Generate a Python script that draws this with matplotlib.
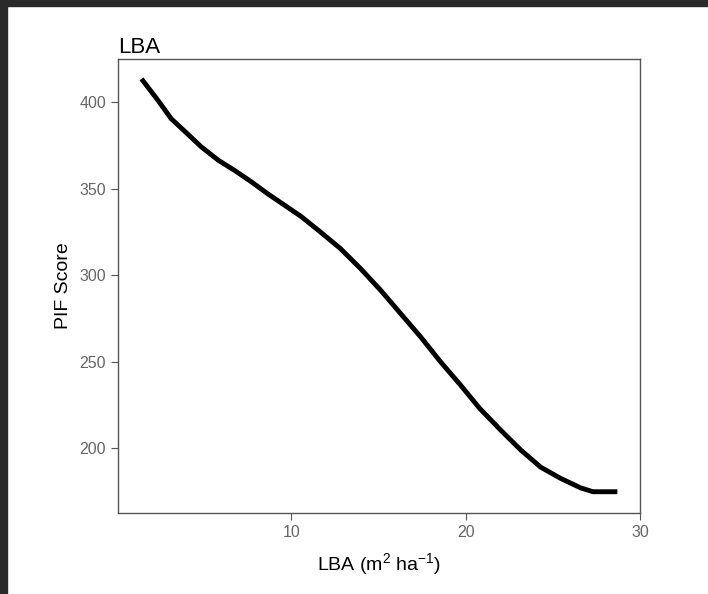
import matplotlib
matplotlib.use("Agg")
import matplotlib.pyplot as plt
from matplotlib.patches import Rectangle

plt.rcParams['font.family'] = ['Liberation Sans', 'DejaVu Sans']
plt.rcParams['mathtext.default'] = 'regular'
plt.rcParams['axes.unicode_minus'] = False

# curve
lba = [1.4, 2.35, 3.1, 3.9, 4.85, 5.8, 6.75, 7.7, 8.65, 9.6, 10.55, 11.6,
       12.8, 13.95, 15.1, 16.25, 17.4, 18.55, 19.7, 20.8, 22.0, 23.15,
       24.3, 25.45, 26.6, 27.3, 28.7]
pif = [413.5, 401, 390.5, 383, 374, 366.5, 360.5, 354, 347, 340.5, 334, 325.5,
       315.5, 304, 291.5, 278, 264.5, 250, 236.5, 223, 210.5, 199,
       189, 182.5, 177, 174.8, 174.8]

fig = plt.figure(figsize=(7.08, 5.94), dpi=100)
fig.patch.set_facecolor('white')

# dark frame on top/left of the screenshot
fig.add_artist(Rectangle((0, 1 - 6/594), 1, 6/594, transform=fig.transFigure, color='#2a2a2a', zorder=0))
fig.add_artist(Rectangle((0, 0), 7/708, 1, transform=fig.transFigure, color='#2a2a2a', zorder=0))

ax = fig.add_axes([118/708, 81/594, 522/708, 454/594])
ax.plot(lba, pif, color='black', lw=3.5, solid_capstyle='butt', solid_joinstyle='round')

ax.set_xlim(0.05, 30)
ax.set_ylim(162.5, 425)
ax.set_xticks([10, 20, 30])
ax.set_yticks([200, 250, 300, 350, 400])

for s in ax.spines.values():
    s.set_color('#555555')
    s.set_linewidth(1.0)
ax.tick_params(colors='#555555', labelcolor='#666666', labelsize=11.5, length=5, width=0.8)

ax.set_ylabel('PIF Score', fontsize=14, labelpad=5)
ax.set_xlabel('LBA (m$^{2}$ ha$^{-1}$)', fontsize=14, labelpad=8)
ax.set_title('LBA', loc='left', fontsize=16, pad=4, x=0.0)

fig.savefig('out.png', dpi=100)
